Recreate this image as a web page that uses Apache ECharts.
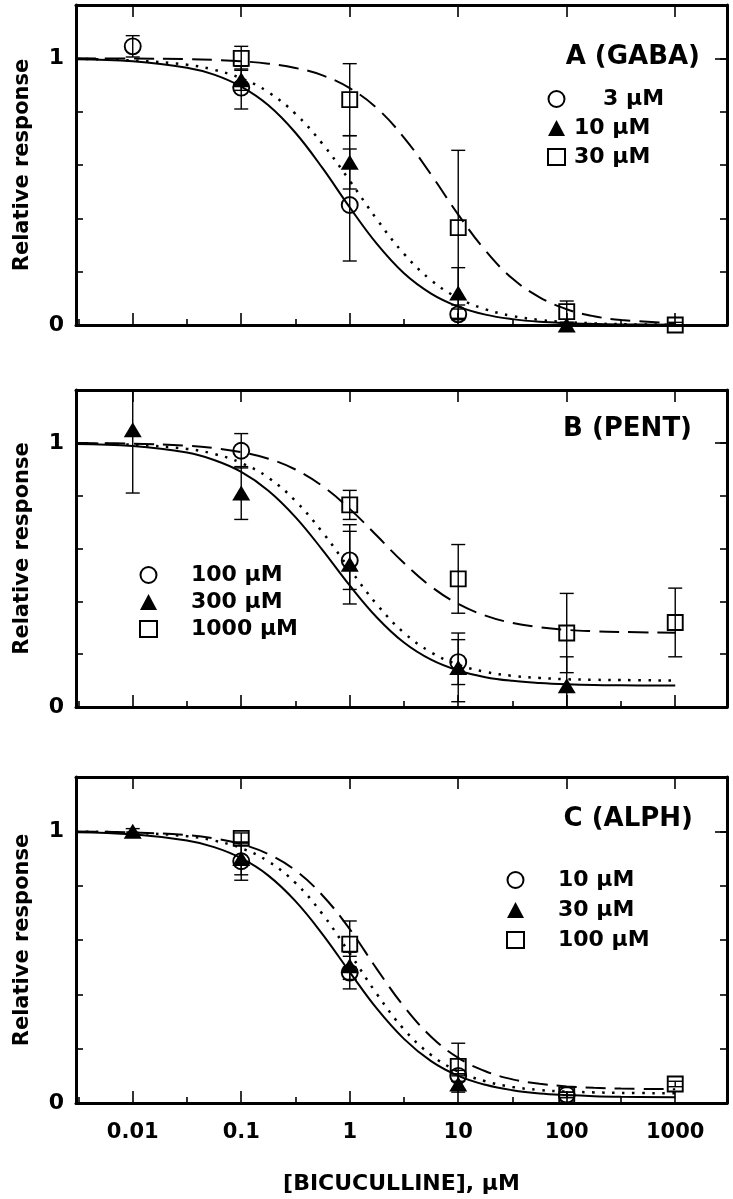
<!DOCTYPE html>
<html><head><meta charset="utf-8">
<script src="https://cdn.jsdelivr.net/npm/echarts@6/dist/echarts.min.js"></script>
<style>html,body{margin:0;padding:0;background:#fff}#c{width:733px;height:1199px}</style>
</head><body><div id="c"></div>
<script>
// ---------- DATA ----------
const xTickLabels = [0.01, 0.1, 1, 10, 100, 1000];
const xRange = [0.003, 3000];
const yTickLabels = [0, 1];
const panelTitles = ['A (GABA)', 'B (PENT)', 'C (ALPH)'];
const xAxisName = '[BICUCULLINE], μM';
const yAxisName = 'Relative response';

const legendA = ['3 μM', '10 μM', '30 μM'];
const legendB = ['100 μM', '300 μM', '1000 μM'];
const legendC = ['10 μM', '30 μM', '100 μM'];

// fitted curves at these concentrations
const curveConc = [0.003, 0.01, 0.0316, 0.0562, 0.1, 0.178, 0.316, 0.562, 1, 1.78, 3.16, 5.62, 10, 17.8, 31.6, 56.2, 100, 178, 316, 1000];
const curveA_solid  = [0.997, 0.989, 0.965, 0.939, 0.894, 0.824, 0.721, 0.588, 0.441, 0.304, 0.194, 0.118, 0.069, 0.039, 0.022, 0.012, 0.007, 0.004, 0.002, 0.001];
const curveA_dotted = [0.998, 0.992, 0.976, 0.957, 0.925, 0.873, 0.792, 0.679, 0.541, 0.396, 0.267, 0.168, 0.101, 0.059, 0.034, 0.019, 0.011, 0.006, 0.003, 0.001];
const curveA_dashed = [1.000, 0.999, 0.997, 0.994, 0.989, 0.980, 0.964, 0.936, 0.888, 0.813, 0.703, 0.564, 0.414, 0.279, 0.174, 0.104, 0.059, 0.033, 0.019, 0.006];
const curveB_solid  = [0.996, 0.988, 0.963, 0.935, 0.890, 0.819, 0.719, 0.594, 0.460, 0.339, 0.244, 0.179, 0.138, 0.113, 0.099, 0.091, 0.086, 0.083, 0.082, 0.081];
const curveB_dotted = [0.998, 0.993, 0.977, 0.958, 0.924, 0.868, 0.780, 0.661, 0.522, 0.388, 0.281, 0.207, 0.160, 0.133, 0.118, 0.110, 0.105, 0.103, 0.102, 0.100];
const curveB_dashed = [0.999, 0.997, 0.989, 0.980, 0.965, 0.940, 0.899, 0.836, 0.750, 0.648, 0.545, 0.456, 0.390, 0.346, 0.318, 0.302, 0.292, 0.287, 0.284, 0.281];
const curveC_solid  = [0.997, 0.989, 0.966, 0.942, 0.901, 0.837, 0.743, 0.621, 0.482, 0.347, 0.236, 0.154, 0.100, 0.067, 0.047, 0.035, 0.029, 0.025, 0.023, 0.021];
const curveC_dotted = [0.999, 0.995, 0.982, 0.966, 0.938, 0.889, 0.810, 0.695, 0.551, 0.401, 0.271, 0.177, 0.116, 0.080, 0.059, 0.048, 0.042, 0.039, 0.037, 0.036];
const curveC_dashed = [0.999, 0.996, 0.986, 0.974, 0.953, 0.916, 0.856, 0.764, 0.640, 0.493, 0.355, 0.244, 0.166, 0.117, 0.087, 0.071, 0.061, 0.056, 0.053, 0.051];

// measured points: concentration, mean, error
const A_circle_conc = [0.01, 0.1, 1, 10];
const A_circle_mean = [1.045, 0.89, 0.45, 0.04];
const A_circle_err  = [0.04, 0.08, 0.21, 0.02];
const A_tri_conc = [0.1, 1, 10, 100];
const A_tri_mean = [0.92, 0.61, 0.12, 0.0];
const A_tri_err  = [0.04, 0.10, 0.095, 0.01];
const A_sq_conc = [0.1, 1, 10, 100, 1000];
const A_sq_mean = [1.0, 0.845, 0.365, 0.05, 0.0];
const A_sq_err  = [0.045, 0.135, 0.29, 0.04, 0.01];

const B_circle_conc = [0.1, 1, 10];
const B_circle_mean = [0.97, 0.555, 0.17];
const B_circle_err  = [0.065, 0.11, 0.085];
const B_tri_conc = [0.01, 0.1, 1, 10, 100];
const B_tri_mean = [1.05, 0.81, 0.54, 0.15, 0.08];
const B_tri_err  = [0.24, 0.10, 0.15, 0.13, 0.11];
const B_sq_conc = [1, 10, 100, 1000];
const B_sq_mean = [0.765, 0.485, 0.28, 0.32];
const B_sq_err  = [0.055, 0.13, 0.15, 0.13];

const C_circle_conc = [0.1, 1, 10, 100];
const C_circle_mean = [0.89, 0.48, 0.10, 0.03];
const C_circle_err  = [0.07, 0.06, 0.02, 0.01];
const C_tri_conc = [0.01, 0.1, 1, 10];
const C_tri_mean = [1.0, 0.90, 0.505, 0.07];
const C_tri_err  = [0.01, 0.06, 0.05, 0.03];
const C_sq_conc = [0.1, 1, 10, 100, 1000];
const C_sq_mean = [0.974, 0.585, 0.135, 0.03, 0.07];
const C_sq_err  = [0.02, 0.085, 0.085, 0.01, 0.01];

// ---------- CHART ----------
const FONT = '"DejaVu Sans", "Liberation Sans", Arial, sans-serif';
const lg = Math.log10;
const grids = [
  {left: 76, right: 6, top: 5, height: 320},
  {left: 76, right: 6, top: 390, height: 317},
  {left: 76, right: 6, top: 777, height: 326}
];
const xAxes = [], yAxes = [], series = [];
const AX = {color: '#000', width: 3};
function xLabel(v) {
  for (const t of xTickLabels) if (Math.abs(lg(t) - v) < 1e-6) return String(t);
  return '';
}
grids.forEach((g, i) => {
  const base = {gridIndex: i, type: 'value', min: lg(xRange[0]), max: lg(xRange[1]),
    splitNumber: 6, minInterval: 1, maxInterval: 1, splitLine: {show: false}};
  xAxes.push(Object.assign({}, base, {
    position: 'bottom',
    axisLine: {show: true, onZero: false, lineStyle: AX},
    axisTick: {show: true, inside: true, length: 12, lineStyle: {color: '#000', width: 1.6}},
    minorTick: {show: true, splitNumber: 2, length: 6, lineStyle: {color: '#000', width: 1.6}},
    minorSplitLine: {show: false},
    axisLabel: {show: i === 2, formatter: xLabel, margin: 19, color: '#000',
      fontSize: 21, fontWeight: 'bold', fontFamily: FONT, showMinLabel: false, showMaxLabel: false},
    name: i === 2 ? xAxisName : '', nameLocation: 'middle', nameGap: 70,
    nameTextStyle: {fontSize: 22, fontWeight: 'bold', fontFamily: FONT, color: '#000'}
  }));
  xAxes.push(Object.assign({}, base, {
    position: 'top',
    axisLine: {show: true, onZero: false, lineStyle: AX},
    axisTick: {show: true, inside: true, length: 12, lineStyle: {color: '#000', width: 1.6}},
    axisLabel: {show: false}
  }));
  const yb = {gridIndex: i, type: 'value', min: 0, max: 1.2, splitLine: {show: false}};
  yAxes.push(Object.assign({}, yb, {position: 'left', interval: 0.2,
    axisLine: {show: true, onZero: false, lineStyle: AX},
    axisTick: {show: true, inside: true, length: 7, lineStyle: {color: '#000', width: 1.6}},
    axisLabel: {show: false}}));
  yAxes.push(Object.assign({}, yb, {position: 'left', interval: 1,
    axisLine: {show: false, onZero: false},
    axisTick: {show: true, inside: true, length: 12, lineStyle: {color: '#000', width: 1.6}},
    axisLabel: {show: true, margin: 12, color: '#000', fontSize: 22, fontWeight: 'bold', fontFamily: FONT,
      formatter: v => (yTickLabels.some(t => Math.abs(t - v) < 1e-6) ? String(Math.round(v)) : '')},
    name: yAxisName, nameLocation: 'middle', nameGap: 43, nameRotate: 90,
    nameTextStyle: {fontSize: 21, fontWeight: 'bold', fontFamily: FONT, color: '#000'}}));
  yAxes.push(Object.assign({}, yb, {position: 'right', interval: 0.2,
    axisLine: {show: true, onZero: false, lineStyle: AX},
    axisTick: {show: true, inside: true, length: 7, lineStyle: {color: '#000', width: 1.6}},
    axisLabel: {show: false}}));
  yAxes.push(Object.assign({}, yb, {position: 'right', interval: 1,
    axisLine: {show: false, onZero: false},
    axisTick: {show: true, inside: true, length: 12, lineStyle: {color: '#000', width: 1.6}},
    axisLabel: {show: false}}));
});

const panels = [
  {key: 'A', legend: legendA, curves: [curveA_solid, curveA_dotted, curveA_dashed],
   pts: [[A_circle_conc, A_circle_mean, A_circle_err], [A_tri_conc, A_tri_mean, A_tri_err], [A_sq_conc, A_sq_mean, A_sq_err]]},
  {key: 'B', legend: legendB, curves: [curveB_solid, curveB_dotted, curveB_dashed],
   pts: [[B_circle_conc, B_circle_mean, B_circle_err], [B_tri_conc, B_tri_mean, B_tri_err], [B_sq_conc, B_sq_mean, B_sq_err]]},
  {key: 'C', legend: legendC, curves: [curveC_solid, curveC_dotted, curveC_dashed],
   pts: [[C_circle_conc, C_circle_mean, C_circle_err], [C_tri_conc, C_tri_mean, C_tri_err], [C_sq_conc, C_sq_mean, C_sq_err]]}
];
const lineTypes = [
  {type: 'solid', width: 2},
  {type: [2.5, 7.5], width: 2.5},
  {type: [20, 9], width: 2}
];
const symbols = [
  {symbol: 'circle', size: 16, itemStyle: {color: 'rgba(255,255,255,0)', borderColor: '#000', borderWidth: 1.9, opacity: 1}},
  {symbol: 'triangle', size: [18, 15], itemStyle: {color: '#000', borderColor: '#000', borderWidth: 0, opacity: 1}},
  {symbol: 'rect', size: 15, itemStyle: {color: 'rgba(255,255,255,0)', borderColor: '#000', borderWidth: 1.9, opacity: 1}}
];
function errRender(params, api) {
  const x = api.value(0), y = api.value(1), e = api.value(2);
  const top = api.coord([x, y + e]), bot = api.coord([x, y - e]);
  const hw = 7, st = {stroke: '#000', lineWidth: 1.4};
  return {type: 'group', children: [
    {type: 'line', shape: {x1: top[0], y1: top[1], x2: bot[0], y2: bot[1]}, style: st},
    {type: 'line', shape: {x1: top[0] - hw, y1: top[1], x2: top[0] + hw, y2: top[1]}, style: st},
    {type: 'line', shape: {x1: bot[0] - hw, y1: bot[1], x2: bot[0] + hw, y2: bot[1]}, style: st}
  ]};
}
panels.forEach((p, i) => {
  p.curves.forEach((c, k) => {
    series.push({type: 'line', name: p.key + '|fit' + k, xAxisIndex: 2 * i, yAxisIndex: 4 * i,
      data: curveConc.map((x, j) => [lg(x), c[j]]), showSymbol: false, symbol: 'none',
      smooth: 0.4, silent: true, z: 2,
      lineStyle: {color: '#000', width: lineTypes[k].width, type: lineTypes[k].type, cap: 'butt'}});
  });
  p.pts.forEach((d, k) => {
    series.push({type: 'custom', name: p.key + '|err' + k, xAxisIndex: 2 * i, yAxisIndex: 4 * i,
      renderItem: errRender, clip: true, z: 3, silent: true,
      data: d[0].map((x, j) => [lg(x), d[1][j], d[2][j]])});
  });
  p.pts.forEach((d, k) => {
    series.push({type: 'scatter', name: p.key + '|' + p.legend[k], xAxisIndex: 2 * i, yAxisIndex: 4 * i,
      symbol: symbols[k].symbol, symbolSize: symbols[k].size, itemStyle: symbols[k].itemStyle, z: 4,
      data: d[0].map((x, j) => [lg(x), d[1][j]])});
  });
});

const legendPos = [
  {left: 547, top: 88, gap: 7, pad: 5, firstPad: 34},
  {left: 139, top: 564, gap: 5, pad: 30, firstPad: 30},
  {left: 506, top: 869, gap: 8, pad: 30, firstPad: 30}
];
const legends = panels.map((p, i) => ({
  orient: 'vertical', left: legendPos[i].left, top: legendPos[i].top, padding: 0,
  itemWidth: 17, itemHeight: 16, itemGap: legendPos[i].gap, selectedMode: false,
  formatter: n => n.split('|')[1],
  textStyle: {fontSize: 22, lineHeight: 22, fontWeight: 'bold', fontFamily: FONT, color: '#000',
    padding: [0, 0, 0, legendPos[i].pad - 1]},
  data: p.legend.map((l, k) => k === 0 ?
    {name: p.key + '|' + l, textStyle: {padding: [0, 0, 0, legendPos[i].firstPad - 1]}} : p.key + '|' + l)
}));
const titlePos = [{right: 33, top: 44}, {right: 41, top: 416}, {right: 40, top: 806}];
const titles = panelTitles.map((t, i) => ({text: t, right: titlePos[i].right, top: titlePos[i].top, padding: 0,
  textStyle: {fontSize: 26, fontWeight: 'bold', fontFamily: FONT, color: '#000'}}));

const chart = echarts.init(document.getElementById('c'), null, {renderer: 'canvas'});
chart.setOption({
  animation: false, backgroundColor: '#fff',
  title: titles, legend: legends, grid: grids, xAxis: xAxes, yAxis: yAxes, series: series
});
</script></body></html>
